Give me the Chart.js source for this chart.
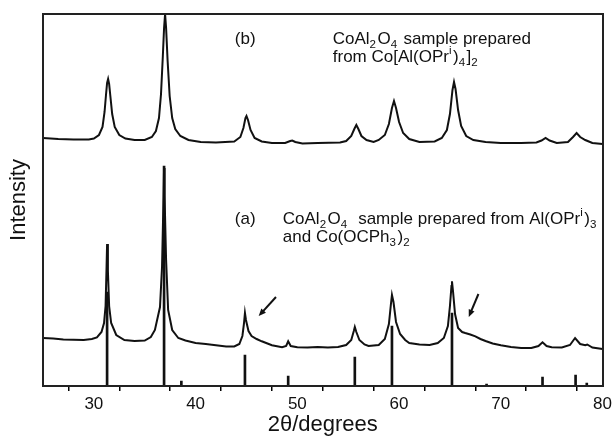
<!DOCTYPE html>
<html>
<head>
<meta charset="utf-8">
<script src="https://cdn.jsdelivr.net/npm/chart.js@4"></script>
<style>
  body { margin: 0; background: #fff; }
  canvas { display: block; }
</style>
</head>
<body>
<canvas id="xrd" width="615" height="438"></canvas>
<script>
// pattern (b): sample from Co[Al(OPri)4]2  -- [2theta, intensity]
var traceB = [
  [25, 248], [26.5, 247], [28, 246.5], [29.5, 246.5], [30, 247.5], [30.5, 251], [30.85, 259],
  [31.05, 274], [31.2, 292], [31.3, 303], [31.4, 307], [31.5, 302], [31.62, 290], [31.8, 272],
  [32.05, 259], [32.5, 251], [33.1, 247.5], [34, 246], [35, 246], [35.7, 249], [36.1, 255],
  [36.4, 268], [36.6, 292], [36.78, 330], [36.9, 358], [37, 372], [37.1, 358], [37.25, 325],
  [37.45, 290], [37.7, 268], [38, 257], [38.5, 250], [39.3, 246], [40.5, 244], [42, 243.5],
  [43.8, 244.5], [44.4, 249], [44.7, 258], [44.9, 268], [45, 270], [45.15, 266], [45.4, 256],
  [45.8, 248], [46.5, 244.5], [47.5, 243], [48.8, 243], [49.3, 245], [49.5, 245.5], [49.8, 244],
  [50.5, 242.5], [52, 243], [54.2, 243.5], [54.8, 245], [55.3, 250], [55.6, 257], [55.8, 261],
  [56, 257], [56.3, 250], [56.8, 246], [57.5, 244], [58, 246], [58.6, 251], [59, 262],
  [59.3, 278], [59.5, 285], [59.7, 278], [60, 264], [60.4, 253], [61, 247], [62, 244],
  [63.5, 244.5], [64.2, 248], [64.7, 256], [65, 272], [65.25, 296], [65.4, 304], [65.55, 297],
  [65.8, 276], [66.1, 260], [66.6, 250], [67.3, 246], [68.5, 244], [70, 243], [72, 243],
  [73.5, 243.5], [74, 245.5], [74.4, 248], [74.8, 245.5], [75.5, 243], [76.6, 244], [77.1, 249],
  [77.45, 253], [77.8, 249], [78.3, 246], [79, 243], [80, 242]
];

// pattern (a): sample from Al(OPri)3 and Co(OCPh3)2
var traceA = [
  [25, 48], [26, 47.5], [27, 46.5], [28, 46.3], [29, 46], [29.8, 47], [30.3, 48.5], [30.75, 54],
  [31, 63], [31.15, 80], [31.25, 120], [31.3, 142], [31.38, 115], [31.5, 80], [31.7, 63],
  [32.2, 51], [33, 46], [34, 45], [35, 45.5], [35.6, 49], [36, 56], [36.5, 79], [36.7, 119],
  [36.85, 190], [36.9, 218], [36.95, 190], [37.1, 126], [37.3, 76], [37.7, 56], [38.3, 48],
  [39, 45.5], [40, 43], [41, 42], [42, 40.7], [43, 39.5], [43.8, 39.5], [44.3, 42], [44.6, 50],
  [44.75, 62], [44.85, 73], [44.95, 66], [45.2, 55], [45.5, 50], [46, 47], [46.5, 44.7],
  [47.5, 40.7], [48.5, 38.7], [48.9, 40], [49.1, 44.7], [49.35, 40], [50, 38.7], [51, 38.5],
  [52, 39], [53, 38.5], [54, 39], [54.8, 41], [55.3, 46], [55.55, 55], [55.65, 59], [55.8, 54],
  [56.1, 46], [56.6, 41.5], [57, 40], [58, 41], [58.6, 47], [59, 62], [59.2, 82], [59.3, 91],
  [59.45, 84], [59.7, 64], [60.1, 52], [60.6, 46], [61, 43], [62, 41.5], [63, 41], [63.8, 43],
  [64.4, 48], [64.8, 60], [65, 80], [65.15, 100], [65.2, 104.7], [65.3, 95], [65.5, 72],
  [65.8, 58], [66.2, 54], [66.5, 53], [67, 51.5], [67.5, 49.7], [68, 47], [68.5, 45],
  [69.2, 42.5], [70, 40.7], [71, 39], [72, 38], [73, 38], [73.7, 40], [74.1, 43.7], [74.5, 40],
  [75, 38.7], [76, 38.5], [76.8, 41], [77.3, 48], [77.8, 42], [78.3, 40.7], [78.5, 41.5],
  [79, 38.5], [80, 37]
];

// reference line pattern (sticks)
var stickTheta = [31.3, 36.9, 38.6, 44.85, 49.1, 55.65, 59.3, 65.2, 68.6, 74.1, 77.35, 78.45];
var stickInt = [94, 220, 5, 31, 10, 29, 60, 73, 2, 9, 11, 3];

var xTickLabels = [30, 40, 50, 60, 70, 80];

// arrows marking the broad shoulders in (a): [tail, tip]
var arrows = [
  [[47.9, 89], [46.2, 70]],
  [[67.8, 92], [66.85, 69]]
];

var FONT = "'Liberation Sans', Arial, Helvetica, sans-serif";

var labels = [
  { at: [43.86, 347], parts: [['(b)']] },
  { at: [53.48, 347], parts: [['CoAl'], ['2', 'sub'], ['O'], ['4', 'sub'], [' sample prepared']] },
  { at: [53.48, 329], parts: [['from Co[Al(OPr'], ['i', 'sup'], [')'], ['4', 'sub'], [']'], ['2', 'sub']] },
  { at: [43.86, 167], parts: [['(a)']] },
  { at: [48.57, 167], parts: [['CoAl'], ['2', 'sub'], ['O'], ['4', 'sub'], ['  sample prepared from Al(OPr'], ['i', 'sup'], [')'], ['3', 'sub']] },
  { at: [48.57, 149], parts: [['and Co(OCPh'], ['3', 'sub'], [')'], ['2', 'sub']] }
];

function toXY(arr) {
  return arr.map(function (p) { return { x: p[0], y: p[1] }; });
}

function drawRich(ctx, x, y, parts, size) {
  ctx.textBaseline = 'middle';
  ctx.textAlign = 'left';
  parts.forEach(function (p) {
    var small = p[1] === 'sub' || p[1] === 'sup';
    var fs = small ? size * 0.68 : size;
    var dy = p[1] === 'sub' ? size * 0.32 : (p[1] === 'sup' ? -size * 0.38 : 0);
    ctx.font = fs + 'px ' + FONT;
    ctx.fillText(p[0], x, y + dy);
    x += ctx.measureText(p[0]).width + (small ? 1.5 : 0);
  });
}

var decor = {
  id: 'decor',
  afterDraw: function (chart) {
    var ctx = chart.ctx, a = chart.chartArea;
    var xs = chart.scales.x, ys = chart.scales.y;
    ctx.save();

    // plot frame
    ctx.strokeStyle = '#222';
    ctx.lineWidth = 2;
    ctx.strokeRect(Math.round(a.left), Math.round(a.top), Math.round(a.right - a.left), Math.round(a.bottom - a.top));

    // annotation text
    ctx.fillStyle = '#111';
    labels.forEach(function (l) {
      drawRich(ctx, xs.getPixelForValue(l.at[0]), ys.getPixelForValue(l.at[1]), l.parts, 17);
    });

    // arrows
    arrows.forEach(function (ar) {
      var x1 = xs.getPixelForValue(ar[0][0]), y1 = ys.getPixelForValue(ar[0][1]);
      var x2 = xs.getPixelForValue(ar[1][0]), y2 = ys.getPixelForValue(ar[1][1]);
      var ang = Math.atan2(y2 - y1, x2 - x1);
      ctx.strokeStyle = '#111';
      ctx.lineWidth = 2;
      ctx.beginPath();
      ctx.moveTo(x1, y1);
      ctx.lineTo(x2 - 5 * Math.cos(ang), y2 - 5 * Math.sin(ang));
      ctx.stroke();
      ctx.beginPath();
      ctx.moveTo(x2, y2);
      ctx.lineTo(x2 - 8 * Math.cos(ang - 0.4), y2 - 8 * Math.sin(ang - 0.4));
      ctx.lineTo(x2 - 8 * Math.cos(ang + 0.4), y2 - 8 * Math.sin(ang + 0.4));
      ctx.closePath();
      ctx.fill();
    });

    // y title
    ctx.translate(19, (a.top + a.bottom) / 2);
    ctx.rotate(-Math.PI / 2);
    ctx.textAlign = 'center';
    ctx.textBaseline = 'middle';
    ctx.font = '22px ' + FONT;
    ctx.fillText('Intensity', 0, 0);
    ctx.restore();
  }
};

new Chart(document.getElementById('xrd').getContext('2d'), {
  type: 'line',
  data: {
    datasets: [
      {
        label: '(b)',
        data: toXY(traceB),
        borderColor: '#111',
        borderWidth: 2,
        pointRadius: 0,
        tension: 0
      },
      {
        label: '(a)',
        data: toXY(traceA),
        borderColor: '#111',
        borderWidth: 2,
        pointRadius: 0,
        tension: 0
      },
      {
        type: 'bar',
        label: 'reference',
        data: stickTheta.map(function (t, i) { return { x: t, y: stickInt[i] }; }),
        backgroundColor: '#111',
        barThickness: 2
      }
    ]
  },
  options: {
    responsive: false,
    animation: false,
    devicePixelRatio: 1,
    layout: { padding: { left: 43, right: 12, top: 14, bottom: 0 } },
    plugins: { legend: { display: false }, tooltip: { enabled: false } },
    scales: {
      x: {
        type: 'linear',
        position: 'bottom',
        min: 25,
        max: 80,
        offset: false,
        border: { color: '#000', width: 2 },
        grid: { drawOnChartArea: false, drawTicks: true, tickLength: 5, color: '#000', lineWidth: 1.5 },
        ticks: {
          stepSize: 5,
          autoSkip: false,
          maxRotation: 0,
          color: '#111',
          padding: 3,
          font: { family: FONT, size: 17 },
          callback: function (v) { return xTickLabels.indexOf(v) >= 0 ? String(v) : ''; }
        },
        title: {
          display: true,
          text: '2θ/degrees',
          color: '#111',
          padding: { top: 0, bottom: 0 },
          font: { family: FONT, size: 22 }
        },
        afterFit: function (s) { s.height = 52; }
      },
      y: {
        display: false,
        min: 0,
        max: 372
      }
    }
  },
  plugins: [decor]
});
</script>
</body>
</html>
